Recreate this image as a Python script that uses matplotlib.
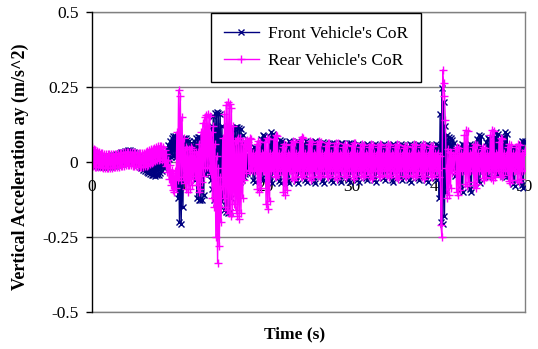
import numpy as np
import matplotlib
matplotlib.use("Agg")
import matplotlib.pyplot as plt

# ---------------- data (sampled every 0.1 s, one line per second) ----------------
sample_step = 0.1

front_ay = [
    0.03,-0.008,0.028,-0.011,0.025,-0.013,0.022,-0.015,0.02,-0.015,
    0.02,-0.017,0.019,-0.017,0.019,-0.016,0.019,-0.016,0.02,-0.015,
    0.02,-0.015,0.021,-0.014,0.022,-0.013,0.024,-0.012,0.026,-0.011,
    0.028,-0.009,0.03,-0.007,0.032,-0.005,0.034,-0.003,0.036,-0.001,
    0.038,0.0,0.039,0.001,0.039,0.001,0.038,0.0,0.035,-0.002,
    0.031,-0.006,0.026,-0.011,0.021,-0.016,0.015,-0.021,0.01,-0.025,
    0.007,-0.029,0.005,-0.033,0.004,-0.037,0.003,-0.04,0.002,-0.042,
    0.002,-0.044,0.002,-0.045,0.003,-0.044,0.005,-0.042,0.008,-0.037,
    0.014,-0.03,0.022,-0.02,0.032,-0.008,0.044,0.002,0.057,0.01,
    0.07,0.016,0.08,0.02,0.086,0.022,0.086,0.018,0.078,-0.12,
    0.06,-0.2,0.065,-0.205,0.07,-0.15,0.08,-0.06,0.08,-0.02,
    0.075,-0.025,0.07,-0.04,0.065,-0.03,0.055,-0.035,0.07,-0.06,
    0.08,-0.12,0.083,-0.125,0.083,-0.127,0.08,-0.125,0.075,-0.11,
    0.045,-0.04,0.035,-0.03,0.05,-0.04,0.08,-0.06,0.12,-0.09,
    0.155,-0.125,0.165,-0.135,0.167,-0.137,0.165,-0.135,0.16,-0.13,
    0.12,-0.12,0.08,-0.16,0.08,-0.168,0.08,-0.17,0.078,-0.165,
    0.08,-0.12,0.11,-0.07,0.115,-0.066,0.117,-0.067,0.116,-0.067,
    0.115,-0.065,0.11,-0.06,0.09,-0.05,0.06,-0.04,0.045,-0.035,
    0.025,-0.025,0.03,-0.03,0.02,0.043,-0.059,0.05,-0.065,0.048,
    0.025,-0.025,0.03,-0.03,0.02,0.077,-0.054,0.09,-0.06,0.086,
    0.025,-0.025,0.03,-0.03,0.02,0.085,-0.063,0.1,-0.07,0.095,
    0.025,-0.025,0.03,-0.03,0.02,0.062,-0.063,0.073,-0.07,0.069,
    0.025,-0.025,0.03,-0.03,0.02,0.06,-0.063,0.07,-0.07,0.067,
    0.025,-0.025,0.03,-0.03,0.02,0.06,-0.063,0.07,-0.07,0.067,
    0.025,-0.025,0.03,-0.03,0.02,0.06,-0.059,0.07,-0.065,0.067,
    0.025,-0.025,0.03,-0.03,0.02,0.06,-0.063,0.07,-0.07,0.067,
    0.025,-0.025,0.03,-0.03,0.02,0.058,-0.063,0.068,-0.07,0.065,
    0.025,-0.025,0.03,-0.03,0.02,0.055,-0.059,0.065,-0.065,0.062,
    0.025,-0.025,0.03,-0.03,0.02,0.055,-0.059,0.065,-0.065,0.062,
    0.025,-0.025,0.03,-0.03,0.02,0.055,-0.059,0.065,-0.065,0.062,
    0.025,-0.025,0.03,-0.03,0.02,0.051,-0.059,0.06,-0.065,0.057,
    0.025,-0.025,0.03,-0.03,0.02,0.051,-0.054,0.06,-0.06,0.057,
    0.025,-0.025,0.03,-0.03,0.02,0.051,-0.059,0.06,-0.065,0.057,
    0.025,-0.025,0.03,-0.03,0.02,0.051,-0.054,0.06,-0.06,0.057,
    0.025,-0.025,0.03,-0.03,0.02,0.051,-0.059,0.06,-0.065,0.057,
    0.025,-0.025,0.03,-0.03,0.02,0.051,-0.054,0.06,-0.06,0.057,
    0.025,-0.025,0.03,-0.03,0.02,0.051,-0.059,0.06,-0.065,0.057,
    0.025,-0.025,0.03,-0.03,0.02,0.051,-0.054,0.06,-0.06,0.057,
    0.025,-0.025,0.03,-0.03,0.02,0.051,-0.059,0.06,-0.065,0.057,
    0.025,-0.025,0.03,-0.03,0.02,0.051,-0.054,0.06,-0.06,0.057,
    0.03,-0.12,0.16,-0.2,0.246,-0.205,0.2,-0.18,0.12,-0.1,
    0.09,-0.025,0.085,-0.015,0.08,-0.01,0.075,-0.025,0.065,-0.045,
    0.025,-0.025,0.03,-0.03,0.02,0.051,-0.09,0.06,-0.1,0.057,
    0.025,-0.025,0.03,-0.03,0.02,0.051,-0.09,0.06,-0.1,0.057,
    0.025,-0.025,0.03,-0.03,0.02,0.077,-0.063,0.09,-0.07,0.086,
    0.025,-0.025,0.03,-0.03,0.02,0.068,-0.045,0.08,-0.05,0.076,
    0.025,-0.025,0.03,-0.03,0.02,0.085,-0.036,0.1,-0.04,0.095,
    0.025,-0.025,0.03,-0.03,0.02,0.085,-0.045,0.1,-0.05,0.095,
    0.025,-0.025,0.03,-0.03,0.02,0.043,-0.072,0.05,-0.08,0.048,
    0.025,-0.025,0.03,-0.03,0.02,0.06,-0.077,0.07,-0.085,0.067,
    0.07,
]

rear_ay = [
    0.05,-0.014,0.044,-0.016,0.04,-0.016,0.036,-0.017,0.032,-0.017,
    0.03,-0.018,0.029,-0.019,0.028,-0.019,0.027,-0.02,0.027,-0.02,
    0.026,-0.02,0.026,-0.019,0.027,-0.018,0.028,-0.017,0.028,-0.016,
    0.029,-0.015,0.03,-0.014,0.031,-0.013,0.032,-0.012,0.033,-0.011,
    0.034,-0.01,0.034,-0.01,0.034,-0.011,0.033,-0.012,0.032,-0.013,
    0.031,-0.014,0.03,-0.015,0.029,-0.016,0.029,-0.016,0.029,-0.015,
    0.031,-0.014,0.033,-0.012,0.036,-0.009,0.039,-0.006,0.042,-0.003,
    0.045,0.0,0.048,0.003,0.051,0.006,0.053,0.008,0.054,0.009,
    0.053,0.006,0.049,0.0,0.04,-0.014,0.026,-0.034,0.008,-0.055,
    -0.01,-0.075,-0.025,-0.092,-0.035,-0.1,-0.03,-0.085,0.1,-0.06,
    0.24,-0.05,0.22,-0.06,0.15,-0.05,0.08,-0.07,0.05,-0.09,
    0.045,-0.1,0.045,-0.09,0.05,-0.075,0.045,-0.055,0.035,-0.045,
    0.035,-0.075,0.035,-0.1,0.06,-0.09,0.1,-0.065,0.13,-0.045,
    0.15,-0.02,0.157,-0.015,0.16,-0.02,0.155,-0.04,0.1,-0.12,
    0.12,-0.15,0.06,-0.25,0.02,-0.337,-0.02,-0.28,-0.05,-0.2,
    -0.08,0.08,-0.12,0.16,-0.15,0.19,-0.16,0.2,-0.17,0.195,
    -0.18,0.18,-0.17,0.12,-0.14,0.07,-0.16,0.075,-0.18,0.08,
    -0.19,0.08,-0.17,0.07,-0.12,0.06,-0.06,0.07,-0.035,0.075,
    0.068,-0.027,0.08,-0.03,0.076,-0.026,0.03,-0.03,0.025,-0.025,
    0.06,-0.09,0.07,-0.1,0.067,-0.085,0.03,-0.03,0.025,-0.025,
    0.068,-0.14,0.08,-0.155,0.076,-0.13,0.03,-0.03,0.025,-0.025,
    0.077,-0.045,0.09,-0.05,0.086,-0.043,0.03,-0.03,0.025,-0.025,
    0.051,-0.1,0.06,-0.11,0.057,-0.094,0.03,-0.03,0.025,-0.025,
    0.06,-0.054,0.07,-0.06,0.067,-0.051,0.03,-0.03,0.025,-0.025,
    0.072,-0.045,0.085,-0.05,0.081,-0.043,0.03,-0.03,0.025,-0.025,
    0.06,-0.054,0.07,-0.06,0.067,-0.051,0.03,-0.03,0.025,-0.025,
    0.06,-0.045,0.07,-0.05,0.067,-0.043,0.03,-0.03,0.025,-0.025,
    0.055,-0.045,0.065,-0.05,0.062,-0.043,0.03,-0.03,0.025,-0.025,
    0.055,-0.05,0.065,-0.055,0.062,-0.047,0.03,-0.03,0.025,-0.025,
    0.051,-0.045,0.06,-0.05,0.057,-0.043,0.03,-0.03,0.025,-0.025,
    0.055,-0.05,0.065,-0.055,0.062,-0.047,0.03,-0.03,0.025,-0.025,
    0.051,-0.045,0.06,-0.05,0.057,-0.043,0.03,-0.03,0.025,-0.025,
    0.051,-0.05,0.06,-0.055,0.057,-0.047,0.03,-0.03,0.025,-0.025,
    0.051,-0.045,0.06,-0.05,0.057,-0.043,0.03,-0.03,0.025,-0.025,
    0.051,-0.045,0.06,-0.05,0.057,-0.043,0.03,-0.03,0.025,-0.025,
    0.051,-0.05,0.06,-0.055,0.057,-0.047,0.03,-0.03,0.025,-0.025,
    0.047,-0.045,0.055,-0.05,0.052,-0.043,0.03,-0.03,0.025,-0.025,
    0.051,-0.045,0.06,-0.05,0.057,-0.043,0.03,-0.03,0.025,-0.025,
    0.051,-0.05,0.06,-0.055,0.057,-0.047,0.03,-0.03,0.025,-0.025,
    0.047,-0.045,0.055,-0.05,0.052,-0.043,0.03,-0.03,0.025,-0.025,
    0.03,-0.05,0.02,-0.21,-0.25,0.307,0.263,0.22,0.14,-0.02,
    -0.12,0.045,-0.11,0.035,-0.085,0.03,-0.035,0.025,-0.03,0.025,
    0.043,-0.1,0.05,-0.11,0.048,-0.094,0.03,-0.03,0.025,-0.025,
    0.091,-0.072,0.107,-0.08,0.102,-0.068,0.03,-0.03,0.025,-0.025,
    0.051,-0.077,0.06,-0.085,0.057,-0.072,0.03,-0.03,0.025,-0.025,
    0.043,-0.054,0.05,-0.06,0.048,-0.051,0.03,-0.03,0.025,-0.025,
    0.091,-0.054,0.107,-0.06,0.102,-0.051,0.03,-0.03,0.025,-0.025,
    0.068,-0.045,0.08,-0.05,0.076,-0.043,0.03,-0.03,0.025,-0.025,
    0.051,-0.063,0.06,-0.07,0.057,-0.06,0.03,-0.03,0.025,-0.025,
    0.051,-0.059,0.06,-0.065,0.057,-0.055,0.03,-0.03,0.025,-0.025,
    0.04,
]

series_labels = ["Front Vehicle's CoR", "Rear Vehicle's CoR"]
x_tick_values = [0, 10, 20, 30, 40, 50]
y_tick_values = [-0.5, -0.25, 0, 0.25, 0.5]
y_tick_labels = ["-0.5", "-0.25", "0", "0.25", "0.5"]
x_title = "Time (s)"
y_title = "Vertical Acceleration ay (m/s^2)"

# ---------------- figure ----------------
plt.rcParams["font.family"] = ["Liberation Serif", "DejaVu Serif"]
W, H = 538, 349
fig = plt.figure(figsize=(W / 100, H / 100), dpi=100)
ax = fig.add_axes([92 / W, 1 - 312 / H, (525 - 92) / W, 300 / H])

t_front = np.arange(len(front_ay)) * sample_step
t_rear = np.arange(len(rear_ay)) * sample_step

grey = "#808080"
for yv in y_tick_values:
    ax.axhline(yv, color=grey, lw=1.0, zorder=1)

ax.plot(t_front, front_ay, color="#000080", lw=1.0, marker="x", ms=5.0,
        mew=1.0, label=series_labels[0], zorder=3)
ax.plot(t_rear, rear_ay, color="#FF00FF", lw=1.0, marker="+", ms=6.0,
        mew=1.0, label=series_labels[1], zorder=4)

ax.set_xlim(0, 50)
ax.set_ylim(-0.5, 0.5)

for side in ["top", "bottom", "right"]:
    ax.spines[side].set_color(grey)
    ax.spines[side].set_linewidth(1.0)
ax.spines["left"].set_color("black")
ax.spines["left"].set_linewidth(1.0)
ax.spines["left"].set_zorder(5)

ax.set_yticks(y_tick_values)
ax.set_yticklabels(y_tick_labels)
ax.tick_params(axis="y", direction="out", length=4.3, width=1.0, pad=5.5,
               labelsize=12.5, colors="black")
ax.set_xticks([])

for xv in x_tick_values:
    ax.annotate(str(xv), xy=(xv, 0), xytext=(0, -18), textcoords="offset points",
                ha="center", va="center", fontsize=12.5, zorder=2,
                annotation_clip=False)

fig.text(295 / W, 1 - 334 / H, x_title, ha="center", va="center",
         fontsize=12.5, fontweight="bold")
fig.text(20 / W, 1 - 167 / H, y_title, ha="center", va="center",
         rotation=90, fontsize=13, fontweight="bold")

leg = ax.legend(loc="upper left", bbox_to_anchor=((211 - 92) / 433, (312 - 13) / 300),
                fontsize=12.5, frameon=True, fancybox=False, framealpha=1,
                edgecolor="black", numpoints=1, handlelength=2.0,
                handletextpad=0.55, labelspacing=0.6, borderpad=0.75,
                borderaxespad=0)
leg.get_frame().set_linewidth(1.0)
leg.set_zorder(10)

fig.savefig("out.png", dpi=100)
